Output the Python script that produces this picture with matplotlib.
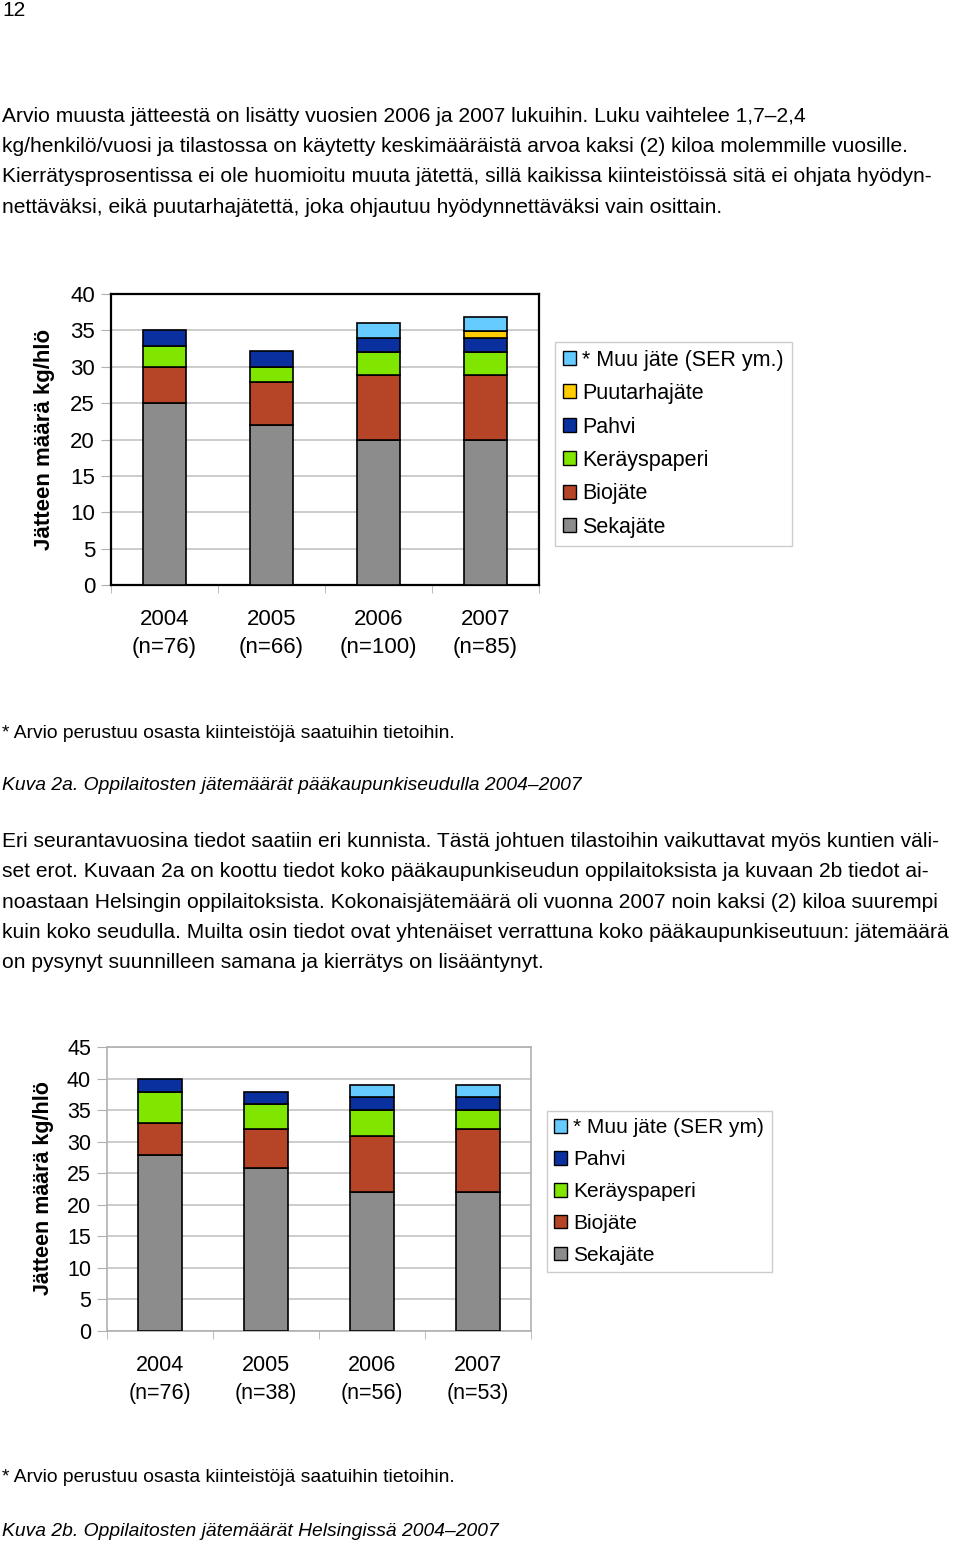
import matplotlib
matplotlib.use("Agg")
import matplotlib.pyplot as plt
from matplotlib.patches import Patch
import numpy as np

plt.rcParams["font.family"] = ["Liberation Sans", "DejaVu Sans"]

W, H = 960, 1544

# ---------------------------------------------------------------------------
# Data
# ---------------------------------------------------------------------------
years_a = ["2004\n(n=76)", "2005\n(n=66)", "2006\n(n=100)", "2007\n(n=85)"]
seka_a = [25.0, 22.0, 20.0, 20.0]
bio_a = [5.0, 5.9, 8.9, 8.9]
ker_a = [2.9, 2.0, 3.1, 3.1]
pahvi_a = [2.1, 2.2, 2.0, 2.0]
puutarha_a = [0.0, 0.0, 0.0, 0.9]
muu_a = [0.0, 0.0, 2.0, 2.0]

years_b = ["2004\n(n=76)", "2005\n(n=38)", "2006\n(n=56)", "2007\n(n=53)"]
seka_b = [27.9, 25.9, 22.0, 22.0]
bio_b = [5.1, 6.1, 8.9, 10.0]
ker_b = [4.8, 4.0, 4.1, 3.0]
pahvi_b = [2.1, 1.9, 2.1, 2.1]
muu_b = [0.0, 0.0, 1.9, 1.9]

C_SEKA = "#8c8c8c"
C_BIO = "#b64426"
C_KER = "#80e600"
C_PAHVI = "#0a30a0"
C_PUU = "#ffcc00"
C_MUU = "#66ccff"


def fx(x):
    return x / W


def fy(y):
    return 1 - y / H


def axes_px(fig, left, top, right, bottom):
    return fig.add_axes([fx(left), fy(bottom), (right - left) / W, (bottom - top) / H])


def stacked(ax, labels, series, ymax, step, frame_color, frame_lw, fs):
    x = np.arange(len(labels))
    base = np.zeros(len(labels))
    for vals, color in series:
        vals = np.asarray(vals)
        keep = vals > 0
        ax.bar(x[keep], vals[keep], bottom=base[keep], width=0.41, color=color,
               edgecolor="black", linewidth=1.2, zorder=3)
        base = base + vals
    ax.set_xlim(-0.5, len(labels) - 0.5)
    ax.set_ylim(0, ymax)
    ax.set_yticks(np.arange(0, ymax + 1, step))
    ax.yaxis.grid(True, color="#c4c4c4", linewidth=1.2, zorder=0)
    ax.set_xticks(x)
    ax.set_xticklabels(labels, fontsize=fs, linespacing=1.45)
    ax.set_xticks(np.arange(-0.5, len(labels)), minor=True)
    ax.tick_params(axis="x", which="major", length=0, pad=17)
    ax.tick_params(axis="x", which="minor", length=6, color="#b0b0b0", direction="out")
    ax.tick_params(axis="y", length=7, color="#b0b0b0", labelsize=fs, pad=4.5)
    for s in ax.spines.values():
        s.set_color(frame_color)
        s.set_linewidth(frame_lw)
    ax.set_axisbelow(True)


def legend_px(fig, entries, left, top, fs, spacing):
    fig.legend(handles=[Patch(facecolor=c, edgecolor="black", linewidth=1) for _, c in entries],
               labels=[t for t, _ in entries], loc="upper left",
               bbox_to_anchor=(fx(left), fy(top)), fontsize=fs, frameon=True, fancybox=False,
               edgecolor="#c0c0c0", handlelength=0.62, handleheight=0.62, handletextpad=0.3,
               labelspacing=spacing, borderpad=0.35, borderaxespad=0)


fig = plt.figure(figsize=(W / 100, H / 100), dpi=100)

body = 15.15
note = 13.9
fig.text(fx(2), fy(11), "12", fontsize=body, va="center")

para1 = [
    "Arvio muusta jätteestä on lisätty vuosien 2006 ja 2007 lukuihin. Luku vaihtelee 1,7–2,4",
    "kg/henkilö/vuosi ja tilastossa on käytetty keskimääräistä arvoa kaksi (2) kiloa molemmille vuosille.",
    "Kierrätysprosentissa ei ole huomioitu muuta jätettä, sillä kaikissa kiinteistöissä sitä ei ohjata hyödyn-",
    "nettäväksi, eikä puutarhajätettä, joka ohjautuu hyödynnettäväksi vain osittain.",
]
for i, line in enumerate(para1):
    fig.text(fx(2), fy(116 + i * 30.4), line, fontsize=body, va="center")

# --- Kuva 2a ---
ax1 = axes_px(fig, 111, 294, 539, 585)
stacked(ax1, years_a,
        [(seka_a, C_SEKA), (bio_a, C_BIO), (ker_a, C_KER),
         (pahvi_a, C_PAHVI), (puutarha_a, C_PUU), (muu_a, C_MUU)],
        40, 5, "black", 1.6, 16)
fig.text(fx(45), fy(439), "Jätteen määrä kg/hlö", rotation=90, fontsize=16,
         fontweight="bold", ha="center", va="center")

legend_px(fig, [("* Muu jäte (SER ym.)", C_MUU), ("Puutarhajäte", C_PUU), ("Pahvi", C_PAHVI),
                ("Keräyspaperi", C_KER), ("Biojäte", C_BIO), ("Sekajäte", C_SEKA)],
          555, 342, 15.5, 0.58)

fig.text(fx(2), fy(733), "* Arvio perustuu osasta kiinteistöjä saatuihin tietoihin.",
         fontsize=note, va="center")
fig.text(fx(2), fy(786), "Kuva 2a. Oppilaitosten jätemäärät pääkaupunkiseudulla 2004–2007",
         fontsize=note, style="italic", va="center")

para2 = [
    "Eri seurantavuosina tiedot saatiin eri kunnista. Tästä johtuen tilastoihin vaikuttavat myös kuntien väli-",
    "set erot. Kuvaan 2a on koottu tiedot koko pääkaupunkiseudun oppilaitoksista ja kuvaan 2b tiedot ai-",
    "noastaan Helsingin oppilaitoksista. Kokonaisjätemäärä oli vuonna 2007 noin kaksi (2) kiloa suurempi",
    "kuin koko seudulla. Muilta osin tiedot ovat yhtenäiset verrattuna koko pääkaupunkiseutuun: jätemäärä",
    "on pysynyt suunnilleen samana ja kierrätys on lisääntynyt.",
]
for i, line in enumerate(para2):
    fig.text(fx(2), fy(841 + i * 30.5), line, fontsize=body, va="center")

# --- Kuva 2b ---
ax2 = axes_px(fig, 107, 1047, 531, 1331)
stacked(ax2, years_b,
        [(seka_b, C_SEKA), (bio_b, C_BIO), (ker_b, C_KER),
         (pahvi_b, C_PAHVI), (muu_b, C_MUU)],
        45, 5, "#b0b0b0", 1.2, 15.5)
fig.text(fx(44), fy(1188), "Jätteen määrä kg/hlö", rotation=90, fontsize=15.5,
         fontweight="bold", ha="center", va="center")

legend_px(fig, [("* Muu jäte (SER ym)", C_MUU), ("Pahvi", C_PAHVI),
                ("Keräyspaperi", C_KER), ("Biojäte", C_BIO), ("Sekajäte", C_SEKA)],
          547, 1111, 15, 0.62)

fig.text(fx(2), fy(1478), "* Arvio perustuu osasta kiinteistöjä saatuihin tietoihin.",
         fontsize=note, va="center")
fig.text(fx(2), fy(1532), "Kuva 2b. Oppilaitosten jätemäärät Helsingissä 2004–2007",
         fontsize=note, style="italic", va="center")

fig.savefig("out.png", dpi=100, facecolor="white")
